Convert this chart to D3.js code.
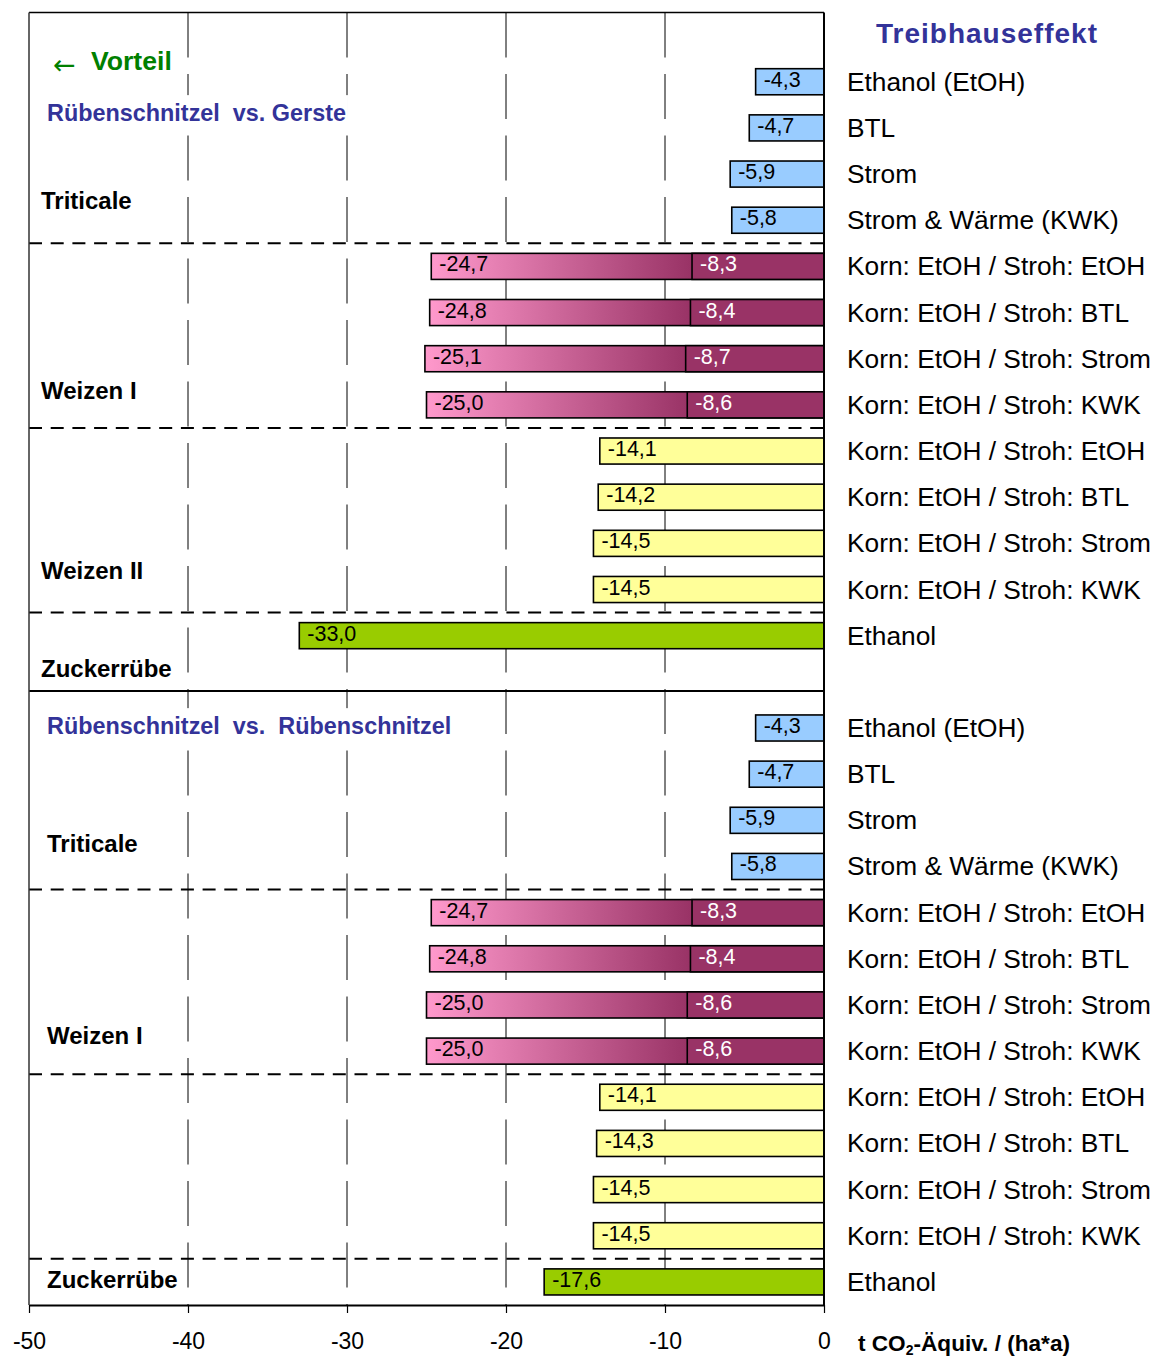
<!DOCTYPE html>
<html>
<head>
<meta charset="utf-8">
<script src="https://cdn.jsdelivr.net/npm/d3@7"></script>
<style>
  html, body { margin: 0; padding: 0; background: #fff; }
  svg { display: block; font-family: "Liberation Sans", Arial, sans-serif; }
  text { white-space: pre; }
</style>
</head>
<body>
<svg id="chart" width="1155" height="1358"></svg>
<script>
// ---- data -----------------------------------------------------------
const triticaleLabels = ["Ethanol (EtOH)", "BTL", "Strom", "Strom & Wärme (KWK)"];
const weizenLabels = ["Korn: EtOH / Stroh: EtOH", "Korn: EtOH / Stroh: BTL",
                      "Korn: EtOH / Stroh: Strom", "Korn: EtOH / Stroh: KWK"];
const zuckerLabels = ["Ethanol"];

// Rübenschnitzel vs. Gerste
const gersteTriticale = [-4.3, -4.7, -5.9, -5.8];
const gersteWeizenITotal = [-24.7, -24.8, -25.1, -25.0];
const gersteWeizenIStroh = [-8.3, -8.4, -8.7, -8.6];
const gersteWeizenII = [-14.1, -14.2, -14.5, -14.5];
const gersteZucker = [-33.0];

// Rübenschnitzel vs. Rübenschnitzel
const rsTriticale = [-4.3, -4.7, -5.9, -5.8];
const rsWeizenITotal = [-24.7, -24.8, -25.0, -25.0];
const rsWeizenIStroh = [-8.3, -8.4, -8.6, -8.6];
const rsWeizenII = [-14.1, -14.3, -14.5, -14.5];
const rsZucker = [-17.6];

const xTicks = [-50, -40, -30, -20, -10, 0];

// ---- rows: one slot per bar, empty slots as spacers -----------------
const rows = [];
function addGroup(startSlot, labels, values, kind, inner) {
  values.forEach((v, i) => rows.push({
    slot: startSlot + i, label: labels[i], value: v, kind,
    inner: inner ? inner[i] : null
  }));
}
addGroup(1, triticaleLabels, gersteTriticale, "triticale");
addGroup(5, weizenLabels, gersteWeizenITotal, "weizen1", gersteWeizenIStroh);
addGroup(9, weizenLabels, gersteWeizenII, "weizen2");
addGroup(13, zuckerLabels, gersteZucker, "zucker");
addGroup(15, triticaleLabels, rsTriticale, "triticale");
addGroup(19, weizenLabels, rsWeizenITotal, "weizen1", rsWeizenIStroh);
addGroup(23, weizenLabels, rsWeizenII, "weizen2");
addGroup(27, zuckerLabels, rsZucker, "zucker");

const fills = { triticale: "#99ccff", weizen1: "url(#pinkGrad)", weizen2: "#ffff99", zucker: "#99cc00" };
const fmt = v => v.toFixed(1).replace(".", ",");

// ---- scales ---------------------------------------------------------
const svg = d3.select("#chart");
const x = d3.scaleLinear().domain([-50, 0]).range([29, 824]);
const slotY = d3.scaleLinear().domain([0, 28]).range([12.5, 1305]);
const step = slotY(1) - slotY(0);
const barH = step * 0.565;
const center = s => slotY(s + 0.5);

const defs = svg.append("defs");
const grad = defs.append("linearGradient").attr("id", "pinkGrad")
  .attr("x1", 0).attr("x2", 1).attr("y1", 0).attr("y2", 0);
grad.append("stop").attr("offset", 0).attr("stop-color", "#ff99cc");
grad.append("stop").attr("offset", 0.66).attr("stop-color", "#993366");
grad.append("stop").attr("offset", 1).attr("stop-color", "#993366");

// ---- vertical gridlines --------------------------------------------
svg.append("g").selectAll("line").data(xTicks.filter(t => t > -50 && t < 0)).join("line")
  .attr("x1", d => x(d)).attr("x2", d => x(d))
  .attr("y1", slotY(0)).attr("y2", slotY(28))
  .attr("stroke", "#000").attr("stroke-width", 1)
  .attr("stroke-dasharray", "45,16.5");

// ---- annotations on the left ---------------------------------------
const ann = svg.append("g");
function subtitle(txt, k) {
  const t = ann.append("text").attr("x", 47).attr("y", slotY(k) + 8)
    .attr("font-size", 23.4).attr("font-weight", "bold").attr("fill", "#333399").text(txt);
  const bb = t.node().getBBox();
  ann.insert("rect", "text").attr("x", bb.x - 2).attr("y", slotY(k) - 18)
    .attr("width", bb.width + 4).attr("height", 36).attr("fill", "#fff");
}
subtitle("Rübenschnitzel  vs. Gerste", 2.18);
subtitle("Rübenschnitzel  vs.  Rübenschnitzel", 15.46);

ann.append("text").attr("x", 53).attr("y", slotY(1.05) + 13)
  .attr("font-size", 27).attr("fill", "#008000").attr("font-family", "DejaVu Sans").text("←");
ann.append("text").attr("x", 91).attr("y", slotY(1.05) + 9)
  .attr("font-size", 26.6).attr("font-weight", "bold").attr("fill", "#008000").text("Vorteil");

const groupLabels = [
  { t: "Triticale", k: 4.08, x: 41 },
  { t: "Weizen I", k: 8.2, x: 41 },
  { t: "Weizen II", k: 12.1, x: 41 },
  { t: "Zuckerrübe", k: 14.22, x: 41 },
  { t: "Triticale", k: 18.01, x: 47 },
  { t: "Weizen I", k: 22.17, x: 47 },
  { t: "Zuckerrübe", k: 27.46, x: 47 }
];
ann.selectAll("text.grp").data(groupLabels).join("text").attr("class", "grp")
  .attr("x", d => d.x).attr("y", d => slotY(d.k) + 8)
  .attr("font-size", 24).attr("font-weight", "bold").attr("fill", "#000")
  .text(d => d.t);

// ---- group separators ----------------------------------------------
svg.append("g").selectAll("line").data([5, 9, 13, 19, 23, 27]).join("line")
  .attr("x1", x(-50)).attr("x2", x(0)).attr("y1", d => slotY(d)).attr("y2", d => slotY(d))
  .attr("stroke", "#000").attr("stroke-width", 2).attr("stroke-dasharray", "13,8.7");
svg.append("line").attr("x1", x(-50)).attr("x2", x(0))
  .attr("y1", slotY(14.7)).attr("y2", slotY(14.7))
  .attr("stroke", "#000").attr("stroke-width", 2);

// ---- bars -----------------------------------------------------------
const bars = svg.append("g");
bars.selectAll("rect.main").data(rows).join("rect").attr("class", "main")
  .attr("x", d => x(d.value)).attr("width", d => x(0) - x(d.value))
  .attr("y", d => center(d.slot) - barH / 2).attr("height", barH)
  .attr("fill", d => fills[d.kind]).attr("stroke", "#000").attr("stroke-width", 1.6);
const innerRows = rows.filter(d => d.inner !== null);
bars.selectAll("rect.inner").data(innerRows).join("rect").attr("class", "inner")
  .attr("x", d => x(d.inner)).attr("width", d => x(0) - x(d.inner))
  .attr("y", d => center(d.slot) - barH / 2).attr("height", barH)
  .attr("fill", "#993366").attr("stroke", "#000").attr("stroke-width", 1.6);

// value labels
bars.selectAll("text.val").data(rows).join("text").attr("class", "val")
  .attr("x", d => x(d.value) + 8).attr("y", d => center(d.slot) + 5)
  .attr("font-size", 21.5).attr("fill", "#000").text(d => fmt(d.value));
bars.selectAll("text.ival").data(innerRows).join("text").attr("class", "ival")
  .attr("x", d => x(d.inner) + 8).attr("y", d => center(d.slot) + 5)
  .attr("font-size", 21.5).attr("fill", "#fff").text(d => fmt(d.inner));

// category labels on the right
svg.append("g").selectAll("text").data(rows).join("text")
  .attr("x", 847).attr("y", d => center(d.slot) + 9)
  .attr("font-size", 26.3).attr("fill", "#000").text(d => d.label);

// ---- frame and axes -------------------------------------------------
svg.append("line").attr("x1", x(-50)).attr("x2", x(0)).attr("y1", slotY(0)).attr("y2", slotY(0))
  .attr("stroke", "#000").attr("stroke-width", 1.5);
svg.append("line").attr("x1", x(-50)).attr("x2", x(-50)).attr("y1", slotY(0)).attr("y2", slotY(28))
  .attr("stroke", "#333").attr("stroke-width", 1.5);
svg.append("line").attr("x1", x(0)).attr("x2", x(0)).attr("y1", slotY(0)).attr("y2", slotY(28))
  .attr("stroke", "#000").attr("stroke-width", 2);

const xAxis = svg.append("g").attr("transform", `translate(0,${slotY(28)})`)
  .call(d3.axisBottom(x).tickValues(xTicks).tickSize(8).tickSizeOuter(0)
    .tickPadding(20).tickFormat(d => String(d)));
xAxis.select(".domain").attr("stroke", "#000").attr("stroke-width", 2);
xAxis.selectAll(".tick line").attr("stroke", "#000").attr("stroke-width", 1.2);
xAxis.selectAll(".tick text").attr("font-size", 23).attr("font-family", "Liberation Sans, Arial, sans-serif").attr("fill", "#000");

const unit = svg.append("text").attr("x", 858).attr("y", 1351)
  .attr("font-size", 22.6).attr("font-weight", "bold").attr("fill", "#000");
unit.append("tspan").text("t CO");
unit.append("tspan").attr("font-size", 14).attr("dy", 4).text("2");
unit.append("tspan").attr("dy", -4).text("-Äquiv. / (ha*a)");

// title
svg.append("text").attr("x", 987).attr("y", 43).attr("text-anchor", "middle")
  .attr("font-size", 28).attr("font-weight", "bold").attr("letter-spacing", 1)
  .attr("fill", "#333399").text("Treibhauseffekt");
</script>
</body>
</html>
